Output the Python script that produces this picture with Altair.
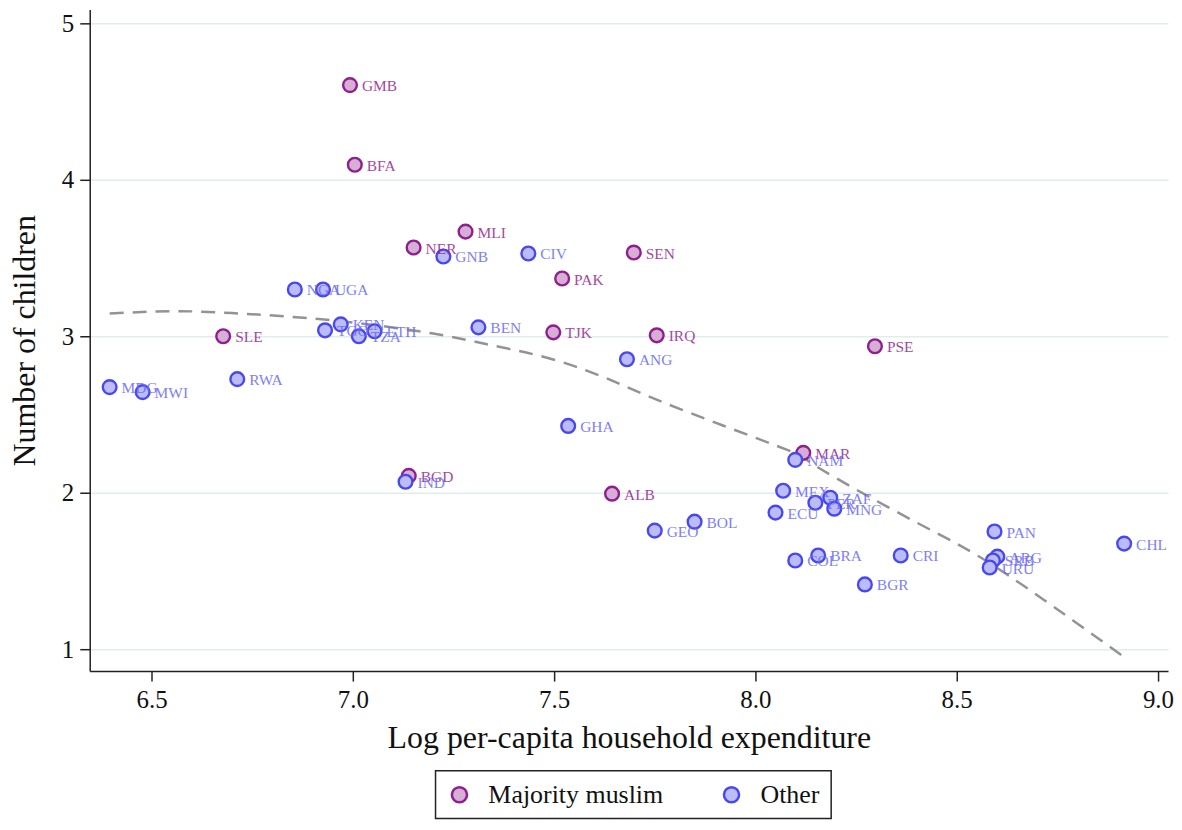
import altair as alt
import pandas as pd

# Country codes, values
muslim_codes = ["GMB", "BFA", "MLI", "NER", "SEN", "PAK", "TJK", "IRQ", "SLE", "PSE", "MAR", "BGD", "ALB"]
muslim_x = [6.993, 7.005, 7.280, 7.151, 7.698, 7.520, 7.498, 7.755, 6.678, 8.297, 8.119, 7.139, 7.644]
muslim_y = [4.605, 4.096, 3.669, 3.567, 3.535, 3.369, 3.025, 3.006, 3.000, 2.936, 2.255, 2.108, 1.994]

other_codes = ["GNB", "CIV", "NGA", "UGA", "BEN", "TGO", "KEN", "TZA", "ETH", "ANG", "MDG", "MWI",
               "RWA", "GHA", "NAM", "IND", "MEX", "PER", "ZAF", "MNG", "ECU", "BOL", "GEO", "BRA",
               "COL", "CRI", "BGR", "CHL", "PAN", "ARG", "SRB", "URU"]
other_x = [7.225, 7.436, 6.856, 6.926, 7.312, 6.931, 6.970, 7.015, 7.054, 7.681, 6.396, 6.478,
           6.713, 7.535, 8.099, 7.131, 8.069, 8.149, 8.186, 8.196, 8.050, 7.849, 7.750, 8.156,
           8.099, 8.361, 8.272, 8.916, 8.594, 8.601, 8.590, 8.582]
other_y = [3.510, 3.529, 3.299, 3.299, 3.057, 3.038, 3.076, 3.000, 3.032, 2.853, 2.675, 2.643,
           2.726, 2.427, 2.210, 2.070, 2.013, 1.936, 1.968, 1.898, 1.873, 1.815, 1.758, 1.599,
           1.567, 1.599, 1.414, 1.675, 1.752, 1.592, 1.567, 1.522]

# Fitted curve, points
fit_x = [6.396, 6.550, 6.700, 6.948, 7.196, 7.344, 7.500, 7.650, 7.807, 8.079, 8.153, 8.401, 8.599, 8.913]
fit_y = [3.146, 3.160, 3.148, 3.102, 3.019, 2.943, 2.850, 2.710, 2.541, 2.274, 2.166, 1.809, 1.522, 0.955]

groups = ["Majority muslim", "Other"]
x_ticks = [6.5, 7.0, 7.5, 8.0, 8.5, 9.0]
y_ticks = [1, 2, 3, 4, 5]

df = pd.DataFrame({
    "code": muslim_codes + other_codes,
    "x": muslim_x + other_x,
    "y": muslim_y + other_y,
    "group": [groups[0]] * len(muslim_codes) + [groups[1]] * len(other_codes),
})
fit = pd.DataFrame({"x": fit_x, "y": fit_y})

FONT = "Liberation Serif"
xscale = alt.Scale(domain=[6.3465, 9.025], nice=False, zero=False)
yscale = alt.Scale(domain=[0.86, 5.089], nice=False, zero=False)

xenc = alt.X("x:Q", scale=xscale, title="Log per-capita household expenditure",
             axis=alt.Axis(values=x_ticks, format=".1f", grid=False, tickSize=10,
                           labelPadding=7, titlePadding=10))
yenc = alt.Y("y:Q", scale=yscale, title="Number of children",
             axis=alt.Axis(values=y_ticks, format="d", grid=True, gridColor="#e1ecec",
                           gridWidth=1.5, tickSize=10, labelPadding=6, titlePadding=20))

line = alt.Chart(fit).mark_line(color="#939393", strokeDash=[14, 9], strokeWidth=2.5,
                                interpolate="natural").encode(x=xenc, y=yenc)

leg = dict(title=None, orient="none", legendX=347, legendY=764, direction="horizontal",
           labelLimit=0)
points = alt.Chart(df).mark_point(shape="circle", size=190, strokeWidth=2.4, filled=False,
                                  opacity=1).encode(
    x=xenc, y=yenc,
    fill=alt.Fill("group:N", scale=alt.Scale(domain=groups, range=["#d6aed6", "#bcbcfa"]),
                  legend=alt.Legend(**leg)),
    stroke=alt.Stroke("group:N", scale=alt.Scale(domain=groups, range=["#8e1f8c", "#4848f0"]),
                      legend=alt.Legend(**leg)),
)

labels = alt.Chart(df).mark_text(align="left", baseline="middle", dx=12, dy=1, fontSize=15.5,
                                 font=FONT, opacity=0.85).encode(
    x=xenc, y=yenc, text="code:N",
    color=alt.Color("group:N", scale=alt.Scale(domain=groups, range=["#95298f", "#6a6af5"]),
                    legend=None),
)

chart = alt.layer(line, points, labels).properties(
    width=1082, height=664, padding={"left": 0, "top": 0, "right": 0, "bottom": 0}
).configure_view(stroke=None).configure_axis(
    domainColor="#222222", tickColor="#222222", domainWidth=1.5, tickWidth=1.5,
    labelFont=FONT, titleFont=FONT, labelFontSize=25, titleFontSize=32,
    labelColor="#111111", titleColor="#111111", titleFontWeight="normal",
).configure_legend(
    labelFont=FONT, labelFontSize=26, labelColor="#111111", symbolSize=230,
    symbolStrokeWidth=2.5, strokeColor="#222222", strokeWidth=1.5, padding=11,
    columnPadding=55, labelOffset=16, labelLimit=0,
)

chart.save("out.html", embed_options={"renderer": "svg", "actions": False})
